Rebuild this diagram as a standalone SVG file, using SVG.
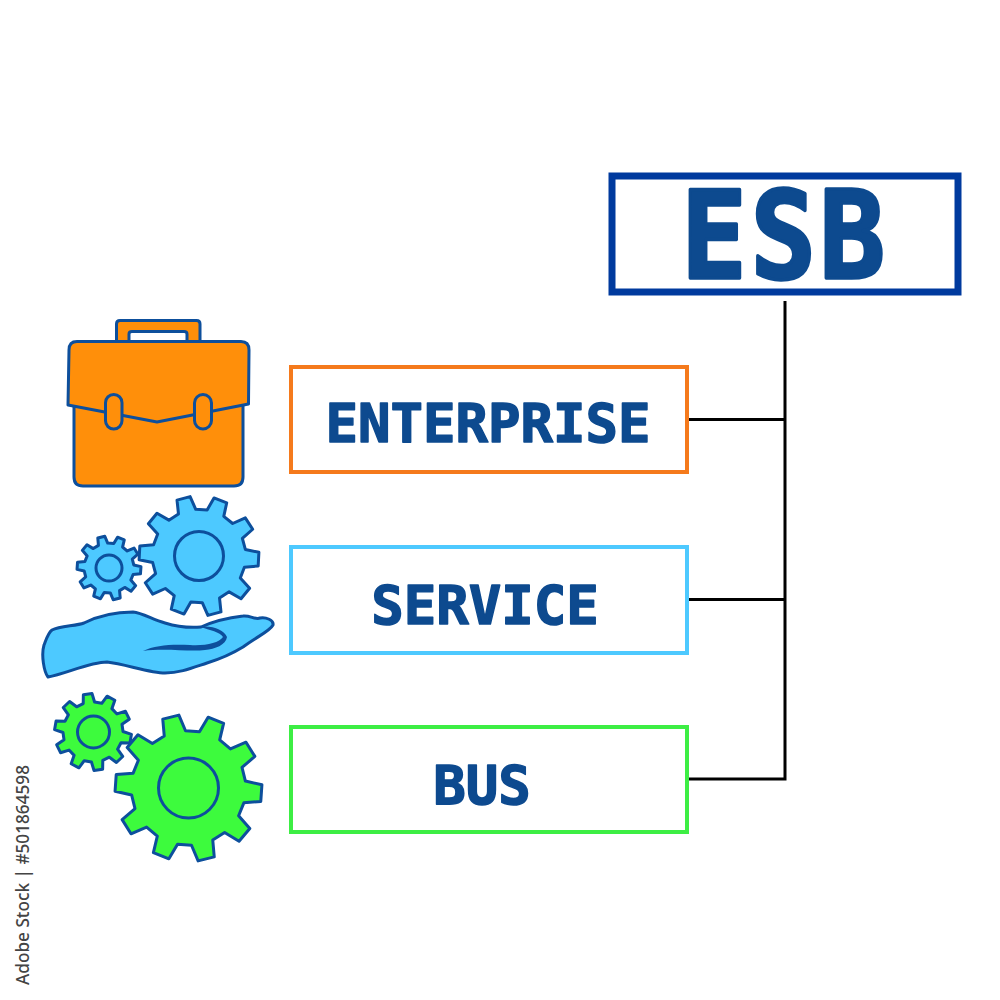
<svg xmlns="http://www.w3.org/2000/svg" width="1000" height="1000" viewBox="0 0 1000 1000">
<style>
.ln{stroke:#0d4f9c;stroke-width:3;stroke-linejoin:round;stroke-linecap:round}
.box{fill:#fff}
.t{font-family:"DejaVu Sans Mono","Liberation Mono",monospace;font-weight:700;fill:#0d4a8f;stroke:#0d4a8f;stroke-linejoin:round;text-anchor:middle}
.w{fill:none;stroke:#000;stroke-width:3}
.gear{stroke:#0d4f9c;stroke-width:3;stroke-linejoin:round;vector-effect:non-scaling-stroke}
.blue{fill:#4dc9ff}
.green{fill:#3dfb3d}
.orange{fill:#ff8f0a}
</style>
<defs>
<path id="cog" d="M11.3-99.4L14.9-76.6L33-70.7L49.2-87L67.6-73.7L57-53.2L68.2-37.8L91-41.5L98-19.9L77.4-9.5L77.4 9.5L98 19.9L91 41.5L68.2 37.8L57 53.2L67.6 73.7L49.2 87L33 70.7L14.9 76.6L11.3 99.4L-11.3 99.4L-14.9 76.6L-33 70.7L-49.2 87L-67.6 73.7L-57 53.2L-68.2 37.8L-91 41.5L-98 19.9L-77.4 9.5L-77.4-9.5L-98-19.9L-91-41.5L-68.2-37.8L-57-53.2L-67.6-73.7L-49.2-87L-33-70.7L-14.9-76.6L-11.3-99.4Z" class="gear"/>
</defs>
<rect width="1000" height="1000" fill="#fff"/>

<g id="connectors">
<path class="w" d="M785 301V780.500M689 419.500H785M689 599.500H785M689 779H785"/>
</g>

<g id="node-esb">
<rect class="box" x="612" y="176" width="346" height="116" stroke="#003a9e" stroke-width="7"/>
<text class="t" transform="translate(785 277.500) scale(.9 1)" font-size="121" stroke-width="3.500" letter-spacing="4">ESB</text>
</g>
<g id="node-enterprise">
<rect class="box" x="291" y="367" width="396" height="105" stroke="#f57a1c" stroke-width="4"/>
<text class="t" x="488" y="441.500" font-size="54" stroke-width="1.500">ENTERPRISE</text>
</g>
<g id="node-service">
<rect class="box" x="291" y="547" width="396" height="106" stroke="#4dc9ff" stroke-width="4"/>
<text class="t" x="485" y="623.500" font-size="54" stroke-width="1.500">SERVICE</text>
</g>
<g id="node-bus">
<rect class="box" x="291" y="727" width="396" height="105" stroke="#3dee44" stroke-width="4"/>
<text class="t" x="482" y="803.500" font-size="54" stroke-width="1.500">BUS</text>
</g>

<g id="icon-briefcase">
<path class="ln orange" d="M116.500 342V324Q116.500 320.500 120 320.500H196.500Q200 320.500 200 324V342Z"/>
<path class="ln" fill="#fff" d="M129 342V334Q129 331.500 132 331.500H184Q187 331.500 187 334V342Z"/>
<path class="ln orange" d="M74 400V477Q74 486 83 486H234Q243 486 243 477V400Z"/>
<path class="ln orange" d="M68 405L69 350Q69 341.500 77 341.500H241Q249 341.500 249 350L248.500 404L157 422Z"/>
<rect class="ln orange" x="105.500" y="394.500" width="16.500" height="34.500" rx="8.200"/>
<rect class="ln orange" x="194.500" y="394.500" width="17" height="34.500" rx="8.500"/>
</g>

<g id="icon-hand-gears">
<use href="#cog" class="blue" transform="translate(199 556) rotate(-15) scale(.6)"/>
<circle class="ln blue" cx="199" cy="556" r="24.500"/>
<use href="#cog" class="blue" transform="translate(109 568) rotate(-14) scale(.32)"/>
<circle class="ln blue" cx="109" cy="568" r="13"/>
<path class="ln blue" d="M52 630C60 626 76 626 84 623C96 617 112 612 133 612C143 613 153 620 165 623C178 627 190 628 201 627C212 622 226 618 243 616C250 615 255 620 260 618C266 617 274 620 273 625C270 631 258 636 243 647C230 655 220 659 207 663C192 668 180 673 165 673C150 673 125 664 107 662C90 662 65 674 48 677C44 672 41 655 44 645C46 640 48 633 52 630Z"/>
<path fill="#0d4f9c" d="M200 627C212 625 224 630 227 637C226 645 215 649 205 650C190 652 165 648 143 651C155 645 172 644 190 645C205 646 219 643 223 637C220 632 210 630 200 627Z"/>
</g>

<g id="icon-green-gears">
<use href="#cog" class="green" transform="translate(93 732) rotate(-8) scale(.385)"/>
<circle class="ln green" cx="93.500" cy="732" r="16"/>
<use href="#cog" class="green" transform="translate(188.500 788) rotate(-14) scale(.735)"/>
<circle class="ln green" cx="188.500" cy="788" r="30"/>
</g>

<text transform="translate(29 985) rotate(-90)" font-family="'Noto Sans','Liberation Sans',sans-serif" font-size="17.200" font-weight="500" fill="#444">Adobe Stock | #501864598</text>
</svg>
